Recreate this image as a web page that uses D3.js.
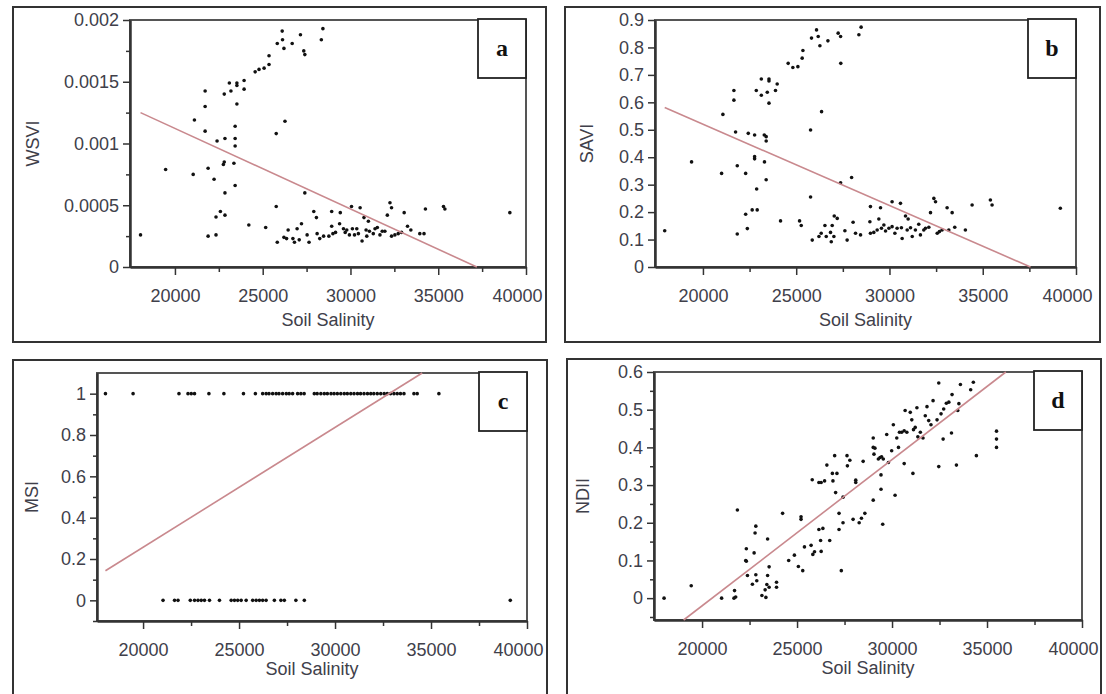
<!DOCTYPE html>
<html>
<head>
<meta charset="utf-8" />
<title>Soil salinity vs indices</title>
<script type="text/javascript" src="https://d3js.org/d3.v7.min.js"></script>
<style type="text/css">
    body { margin: 0; background: #fff; }
    .tick text, .ttl { font-family: "Liberation Sans", Arial, sans-serif; fill: #40404a; }
    .tag { font-family: "Liberation Serif", "Times New Roman", serif; font-weight: bold; font-size: 24px; fill: #111; }
</style>
</head>
<body>
<svg width="1106" height="694"></svg>
<script>
    // values: [soil salinity, index]
    var wsviPts = [[18040,0.00026],[19470,0.00079],[21040,0.00075],[21110,0.00119],[21720,0.001425],[21720,0.0013],[21720,0.0011],
        [21890,0.0008],[21890,0.00025],[22230,0.00071],[22340,0.00026],[22400,0.00102],[22340,0.000405],[22590,0.00045],[22850,0.00042],
        [22850,0.0006],[22760,0.00083],[22810,0.00085],[22850,0.00104],[22810,0.0014],[23100,0.00149],[23190,0.001425],[23360,0.00084],
        [23430,0.00066],[23430,0.00098],[23430,0.00104],[23430,0.00114],[23530,0.00132],[23530,0.00149],[23530,0.00147],[23940,0.00151],
        [23940,0.00144],[24210,0.00034],[24570,0.00158],[24790,0.0016],[25080,0.00161],[25170,0.00032],[25360,0.00164],[25360,0.00171],
        [25770,0.00049],[25770,0.00108],[25830,0.0002],[25830,0.00181],[26130,0.00184],[26110,0.00191],[26210,0.00177],[26270,0.00118],
        [26450,0.0003],[26210,0.00024],[26360,0.00023],[26680,0.00181],[26720,0.00023],[26810,0.0002],[26960,0.00031],[27080,0.00022],
        [27150,0.00188],[27210,0.00035],[27340,0.00175],[27400,0.00172],[27400,0.0006],[27530,0.00026],[27640,0.0002],[27910,0.00045],
        [28060,0.0004],[28100,0.00027],[28250,0.00023],[28340,0.00184],[28430,0.00193],[28470,0.00025],[28770,0.00025],[28930,0.00045],
        [28930,0.00033],[29000,0.00027],[29150,0.00028],[29380,0.00035],[29420,0.00044],[29600,0.00031],[29700,0.00028],[29790,0.0003],
        [29940,0.00026],[30060,0.00049],[30110,0.00031],[30230,0.00026],[30360,0.00031],[30450,0.00027],[30550,0.00048],[30660,0.00021],
        [30770,0.0004],[30890,0.0003],[30930,0.00025],[31020,0.00037],[31080,0.00029],[31300,0.00027],[31400,0.00031],[31530,0.00032],
        [31680,0.00026],[31810,0.00029],[31960,0.00029],[32100,0.00042],[32250,0.00052],[32340,0.00048],[32340,0.00025],[32530,0.00026],
        [32720,0.00027],[32910,0.00028],[33060,0.00044],[33250,0.00033],[33440,0.0003],[33950,0.00027],[34190,0.00027],[34270,0.00047],
        [35300,0.00049],[35380,0.00047],[39080,0.00044]];
    var saviPts = [[17950,0.132],[19390,0.383],[21000,0.341],[21070,0.556],[21660,0.643],[21660,0.608],[21750,0.492],[21840,0.369],
        [21840,0.12],[22290,0.341],[22290,0.192],[22380,0.14],[22430,0.487],[22640,0.208],[22910,0.208],[22770,0.481],[22770,0.402],
        [22770,0.394],[22880,0.284],[22860,0.643],[23130,0.685],[23130,0.626],[23290,0.481],[23300,0.383],[23390,0.475],[23390,0.459],
        [23390,0.318],[23450,0.637],[23540,0.685],[23540,0.678],[23540,0.597],[23890,0.643],[23980,0.667],[24160,0.168],[24570,0.742],
        [24820,0.727],[25090,0.73],[25180,0.168],[25270,0.151],[25320,0.761],[25360,0.789],[25770,0.499],[25770,0.255],[25820,0.834],
        [25860,0.098],[26090,0.864],[26180,0.84],[26270,0.806],[26360,0.566],[26220,0.111],[26340,0.123],[26540,0.151],[26610,0.111],
        [26700,0.824],[26840,0.126],[26880,0.092],[26930,0.151],[27020,0.111],[27040,0.186],[27200,0.177],[27250,0.852],[27380,0.84],
        [27390,0.742],[27380,0.307],[27610,0.132],[27730,0.098],[27970,0.326],[28050,0.163],[28180,0.123],[28360,0.846],[28480,0.874],
        [28450,0.117],[28950,0.165],[28980,0.22],[28980,0.123],[29160,0.126],[29340,0.135],[29430,0.175],[29520,0.216],[29570,0.141],
        [29700,0.153],[29790,0.131],[29970,0.141],[30140,0.238],[30140,0.147],[30290,0.123],[30410,0.141],[30590,0.232],[30680,0.104],
        [30640,0.143],[30860,0.186],[30950,0.135],[31000,0.175],[31130,0.143],[31220,0.111],[31390,0.135],[31570,0.156],[31660,0.117],
        [31840,0.135],[31930,0.141],[32200,0.198],[32110,0.145],[32380,0.25],[32470,0.238],[32560,0.123],[32680,0.129],[32820,0.135],
        [33090,0.216],[33180,0.135],[33360,0.198],[33500,0.145],[34070,0.135],[34430,0.226],[35410,0.244],[35500,0.226],[39160,0.214]];
    var msiOnes = [18040,19480,21870,22340,22510,22680,23430,24210,25230,25850,26230,26410,26560,26750,26930,27080,27270,27460,
        27610,27790,28050,28220,28390,28920,29070,29260,29440,29600,29790,29950,30120,30300,30480,30640,30820,30990,31170,31330,
        31510,31690,31860,32020,32200,32380,32560,32720,32890,33070,33240,33410,33590,34110,34280,35410];
    var msiZeros = [21040,21640,21820,22460,22680,22860,23030,23200,23460,23980,24590,24760,24930,25110,25370,25710,25890,26060,
        26230,26410,26840,27180,27360,27960,28400,39130];
    var ndiiPts = [[18000,0],[19430,0.033],[21030,0],[21680,0],[21770,0.003],[21710,0.02],[21860,0.234],[22300,0.1],[22330,0.098],
        [22330,0.131],[22390,0.06],[22650,0.037],[22740,0.12],[22790,0.173],[22830,0.191],[22830,0.062],[22880,0.046],[23150,0.007],
        [23360,0.002],[23320,0.022],[23410,0.036],[23450,0.06],[23530,0.083],[23450,0.157],[23530,0.029],[23920,0.042],[23920,0.029],
        [24240,0.225],[24560,0.1],[24860,0.114],[25070,0.084],[25300,0.073],[25210,0.209],[25210,0.216],[25390,0.136],[25740,0.14],
        [25830,0.116],[25920,0.123],[26150,0.182],[26270,0.124],[26360,0.185],[26240,0.153],[25800,0.314],[26150,0.307],[26270,0.307],
        [26450,0.311],[26570,0.353],[26720,0.153],[26890,0.311],[26860,0.331],[27030,0.28],[27100,0.331],[26980,0.378],[27210,0.225],
        [27210,0.182],[27330,0.073],[27420,0.2],[27420,0.268],[27630,0.378],[27650,0.351],[27780,0.366],[27950,0.209],[28090,0.313],
        [28090,0.307],[28270,0.2],[28390,0.212],[28480,0.363],[28570,0.225],[29010,0.425],[29010,0.4],[29100,0.398],[29050,0.382],
        [29010,0.26],[29280,0.369],[29370,0.373],[29450,0.375],[29540,0.369],[29420,0.327],[29420,0.289],[29510,0.196],[29720,0.434],
        [29810,0.36],[29980,0.391],[30070,0.46],[30160,0.273],[30250,0.425],[30340,0.4],[30390,0.44],[30510,0.44],[30640,0.444],
        [30640,0.357],[30690,0.498],[30780,0.44],[30960,0.493],[31040,0.473],[31100,0.331],[31130,0.447],[31220,0.453],[31310,0.505],
        [31360,0.428],[31490,0.44],[31630,0.425],[31750,0.484],[31840,0.508],[31930,0.471],[32050,0.46],[32160,0.524],[32370,0.473],
        [32460,0.571],[32460,0.349],[32580,0.489],[32690,0.422],[32720,0.502],[32860,0.517],[32990,0.52],[33130,0.438],[33160,0.54],
        [33390,0.353],[33460,0.498],[33520,0.516],[33600,0.567],[34140,0.553],[34280,0.573],[34440,0.378],[35500,0.443],[35500,0.422],
        [35500,0.4]];

    // fitted lines: two end points each
    var wsviFit = [[18040,0.00125],[37200,0]];
    var saviFit = [[17950,0.581],[37560,0]];
    var msiFit = [[18040,0.143],[34540,1.1]];
    var ndiiFit = [[19030,-0.058],[35990,0.6]];

    var salinityTicks = [20000, 25000, 30000, 35000, 40000];
    var salinityMinor = [22500, 27500, 32500, 37500];
    var wsviTicks = [0, 0.0005, 0.001, 0.0015, 0.002];
    var wsviMinor = [0.00025, 0.00075, 0.00125, 0.00175];
    var saviTicks = [0, 0.1, 0.2, 0.3, 0.4, 0.5, 0.6, 0.7, 0.8, 0.9];
    var msiTicks = [0, 0.2, 0.4, 0.6, 0.8, 1];
    var msiMinor = [-0.1, 0.1, 0.3, 0.5, 0.7, 0.9];
    var ndiiTicks = [0, 0.1, 0.2, 0.3, 0.4, 0.5, 0.6];
    var ndiiMinor = [-0.05, 0.05, 0.15, 0.25, 0.35, 0.45, 0.55];

    var msiPts = msiOnes.map(v => [v, 1]).concat(msiZeros.map(v => [v, 0]));

    var panels = [
        {tag: "a", name: "WSVI", pts: wsviPts, fit: wsviFit, yDom: [0, 0.002], yT: wsviTicks, yM: wsviMinor,
         xDom: [17440, 40000], box: [13, 7, 533, 335], plot: [130, 20, 526, 267], yTitleX: 33, xTitleDy: 59},
        {tag: "b", name: "SAVI", pts: saviPts, fit: saviFit, yDom: [0, 0.9], yT: saviTicks, yM: [],
         xDom: [17430, 40000], box: [565, 7, 535, 335], plot: [655, 20, 1076, 267], yTitleX: 587, xTitleDy: 59},
        {tag: "c", name: "MSI", pts: msiPts, fit: msiFit, yDom: [-0.1, 1.1], yT: msiTicks, yM: msiMinor,
         xDom: [17600, 40000], box: [13, 360, 534, 350], plot: [97, 373, 527, 621], yTitleX: 32, xTitleDy: 54},
        {tag: "d", name: "NDII", pts: ndiiPts, fit: ndiiFit, yDom: [-0.058, 0.6], yT: ndiiTicks, yM: ndiiMinor,
         xDom: [17470, 40000], box: [567, 359, 534, 350], plot: [654, 372, 1082, 620], yTitleX: 583, xTitleDy: 54}
    ];

    var svg = d3.select("svg");
    svg.append("rect").attr("width", 1106).attr("height", 694).attr("fill", "#fff");

    panels.forEach(function(p) {
        var g = svg.append("g");
        var L = p.plot[0], T = p.plot[1], R = p.plot[2], B = p.plot[3];

        // outer frame
        g.append("rect")
            .attr("x", p.box[0]).attr("y", p.box[1])
            .attr("width", p.box[2]).attr("height", p.box[3])
            .attr("fill", "none").attr("stroke", "#333").attr("stroke-width", 2);

        var x = d3.scaleLinear().domain(p.xDom).range([L, R]);
        var y = d3.scaleLinear().domain(p.yDom).range([B, T]);

        // plot box
        g.append("rect")
            .attr("x", L).attr("y", T).attr("width", R - L).attr("height", B - T)
            .attr("fill", "none").attr("stroke", "#555").attr("stroke-width", 2);

        // axes
        var xa = g.append("g").attr("transform", "translate(0," + B + ")")
            .call(d3.axisBottom(x).tickValues(salinityTicks).tickSize(8).tickPadding(14).tickSizeOuter(0).tickFormat(d3.format("d")));
        // last label sits a little inside the frame, as in the original
        xa.selectAll(".tick text").filter(d => d === 40000).attr("dx", -9);
        var xm = g.append("g").attr("transform", "translate(0," + B + ")")
            .call(d3.axisBottom(x).tickValues(salinityMinor).tickSize(5).tickSizeOuter(0).tickFormat(""));
        var ya = g.append("g").attr("transform", "translate(" + L + ",0)")
            .call(d3.axisLeft(y).tickValues(p.yT).tickSize(7).tickPadding(4).tickSizeOuter(0).tickFormat(d => String(d)));
        var ym = g.append("g").attr("transform", "translate(" + L + ",0)")
            .call(d3.axisLeft(y).tickValues(p.yM).tickSize(4).tickSizeOuter(0).tickFormat(""));
        [xa, xm, ya, ym].forEach(function(a) {
            a.select(".domain").attr("stroke", "#333").attr("stroke-width", 2);
            a.selectAll(".tick line").attr("stroke", "#333").attr("stroke-width", 1.5);
            a.selectAll(".tick text").style("font-size", "18px");
        });

        // points
        g.append("g").selectAll("circle")
            .data(p.pts)
            .enter()
            .append("circle")
            .attr("cx", d => x(d[0]))
            .attr("cy", d => y(d[1]))
            .attr("r", 1.8)
            .attr("fill", "#111");

        // regression line
        g.append("path")
            .datum(p.fit)
            .attr("d", d3.line().x(d => x(d[0])).y(d => y(d[1])))
            .attr("fill", "none")
            .attr("stroke", "#c9898e")
            .attr("stroke-width", 1.6);

        // axis titles
        g.append("text").attr("class", "ttl")
            .attr("x", (L + R) / 2).attr("y", B + p.xTitleDy)
            .attr("text-anchor", "middle").style("font-size", "18px")
            .text("Soil Salinity");
        g.append("text").attr("class", "ttl")
            .attr("transform", "translate(" + (p.yTitleX + 6) + "," + ((T + B) / 2) + ") rotate(-90)")
            .attr("text-anchor", "middle").style("font-size", "18px")
            .text(p.name);

        // panel letter box
        g.append("rect")
            .attr("x", R - 48).attr("y", T - 1).attr("width", 48).attr("height", 59)
            .attr("fill", "#fff").attr("stroke", "#222").attr("stroke-width", 1.8);
        g.append("text").attr("class", "tag")
            .attr("x", R - 24).attr("y", T + 36)
            .attr("text-anchor", "middle")
            .text(p.tag);
    });
</script>
</body>
</html>
